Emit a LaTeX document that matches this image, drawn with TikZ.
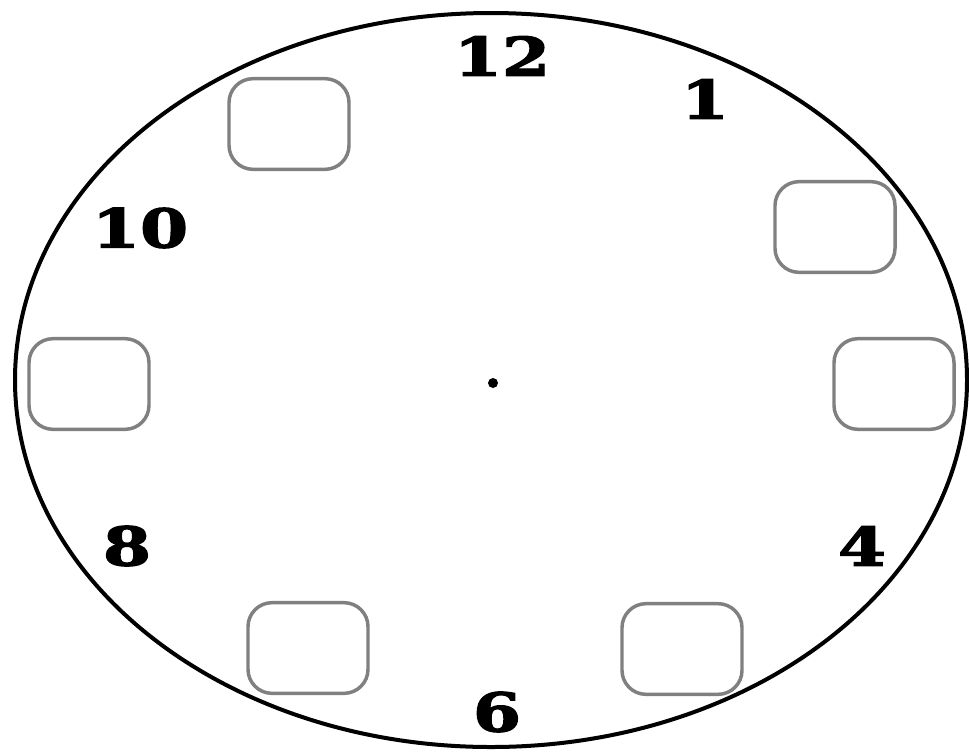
\documentclass[tikz,border=0pt]{standalone}
\usepackage{fontspec}
\newfontfamily\numfont[FakeStretch=1.3,FakeBold=2.5]{DejaVu Serif Bold}
\begin{document}
\begin{tikzpicture}[x=0.75pt,y=-0.75pt,
  slot/.style={draw=black!50,line width=2.6pt,rounded corners=18pt,fill=white,minimum width=90pt,minimum height=68pt,inner sep=0pt},
  num/.style={font=\numfont\fontsize{40}{40}\selectfont,inner sep=0pt,text=black}]
\useasboundingbox (0,0) rectangle (969,753);
\fill[white] (0,0) rectangle (969,753);
\coordinate (c) at (491,380);
\draw[line width=3pt] (c) ellipse [x radius=476, y radius=367];
\fill (493,383) circle [radius=5];
\node[slot] (b11) at (289,124) {};
\node[slot] (b2) at (835,227) {};
\node[slot] (b9) at (89,384) {};
\node[slot] (b3) at (894,384) {};
\node[slot] (b7) at (308,648) {};
\node[slot] (b5) at (682,649) {};
\node[num] (n12) at (502,56) {12};
\node[num] (n1) at (705,99) {1};
\node[num] (n10) at (140,228) {10};
\node[num] (n8) at (127,546) {8};
\node[num] (n4) at (862,546) {4};
\node[num] (n6) at (497,712) {6};
\end{tikzpicture}
\end{document}
